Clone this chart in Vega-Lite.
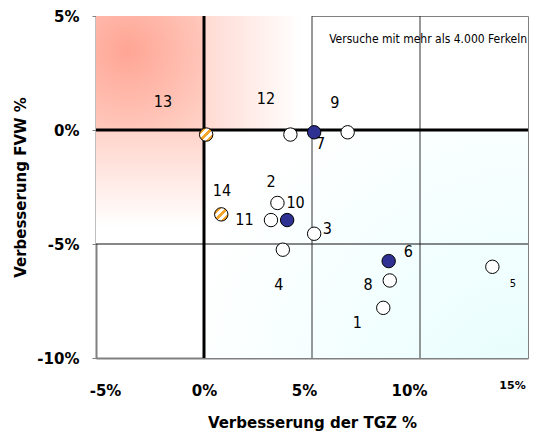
{
  "$schema": "https://vega.github.io/schema/vega-lite/v6.json",
  "width": 432,
  "height": 342,
  "autosize": {"type": "none"},
  "padding": {"left": 96, "top": 16, "right": 6, "bottom": 74},
  "background": "white",
  "config": {
    "view": {"stroke": "#808080", "strokeWidth": 1},
    "font": "DejaVu Sans"
  },
  "datasets": {
    "pts": [
      {"id": 1, "x": 8.3, "y": -7.8, "type": "white", "lx": 7.1, "ly": -8.46},
      {"id": 2, "x": 3.4, "y": -3.2, "type": "white", "lx": 3.1, "ly": -2.28},
      {"id": 3, "x": 5.1, "y": -4.55, "type": "white", "lx": 5.71, "ly": -4.34},
      {"id": 4, "x": 3.65, "y": -5.25, "type": "white", "lx": 3.47, "ly": -6.78},
      {"id": 5, "x": 13.35, "y": -6.0, "type": "white", "lx": 14.3, "ly": -6.74},
      {"id": 6, "x": 8.55, "y": -5.75, "type": "blue", "lx": 9.46, "ly": -5.34},
      {"id": 7, "x": 5.1, "y": -0.1, "type": "blue", "lx": 5.4, "ly": -0.6},
      {"id": 8, "x": 8.6, "y": -6.6, "type": "white", "lx": 7.6, "ly": -6.78},
      {"id": 9, "x": 6.65, "y": -0.1, "type": "white", "lx": 6.06, "ly": 1.2},
      {"id": 10, "x": 3.85, "y": -3.95, "type": "blue", "lx": 4.24, "ly": -3.19},
      {"id": 11, "x": 3.1, "y": -3.95, "type": "white", "lx": 1.87, "ly": -3.94},
      {"id": 12, "x": 4.0, "y": -0.2, "type": "white", "lx": 2.87, "ly": 1.34},
      {"id": 13, "x": 0.1, "y": -0.2, "type": "orange", "lx": -1.9, "ly": 1.25},
      {"id": 14, "x": 0.8, "y": -3.7, "type": "orange", "lx": 0.83, "ly": -2.67}
    ]
  },
  "layer": [
    {
      "data": {"values": [{"x": -5, "x2": 0, "y": 0, "y2": 5}]},
      "mark": {
        "type": "rect",
        "fill": {
          "gradient": "radial",
          "x1": 0.3, "y1": 0.3, "r1": 0,
          "x2": 0.3, "y2": 0.3, "r2": 0.95,
          "stops": [
            {"offset": 0, "color": "#FFA594"},
            {"offset": 1, "color": "#FFD3C8"}
          ]
        }
      },
      "encoding": {
        "x": {
          "field": "x", "type": "quantitative",
          "scale": {"domain": [-5, 15], "nice": false, "zero": false},
          "axis": {
            "values": [-5, 0, 5, 10, 15],
            "labelExpr": "datum.value + '%'",
            "grid": false, "ticks": false, "domain": true,
            "domainColor": "#808080", "domainWidth": 2,
            "labelFont": "DejaVu Sans", "labelFontWeight": "bold",
            "labelFontSize": {"condition": {"test": "datum.value == 15", "value": 11}, "value": 15},
            "labelColor": "black",
            "labelPadding": {"condition": {"test": "datum.value == 15", "value": 21}, "value": 25},
            "labelOffset": {
              "condition": [
                {"test": "datum.value == -5", "value": 9},
                {"test": "datum.value == 5", "value": -8},
                {"test": "datum.value == 10", "value": -11},
                {"test": "datum.value == 15", "value": -16}
              ],
              "value": 0
            },
            "labelFlush": false,
            "labelOverlap": false,
            "title": "Verbesserung der TGZ %",
            "titleFont": "DejaVu Sans", "titleFontWeight": "bold", "titleFontSize": 15,
            "titleColor": "black", "titlePadding": 17
          }
        },
        "x2": {"field": "x2"},
        "y": {
          "field": "y", "type": "quantitative",
          "scale": {"domain": [-10, 5], "nice": false, "zero": false},
          "axis": {
            "values": [-10, -5, 0, 5],
            "labelExpr": "datum.value + '%'",
            "grid": false, "ticks": true, "tickSize": 4, "tickColor": "#808080",
            "domain": true, "domainColor": "#808080", "domainWidth": 2,
            "labelFont": "DejaVu Sans", "labelFontWeight": "bold", "labelFontSize": 15,
            "labelColor": "black", "labelPadding": 13,
            "labelFlush": false, "labelOverlap": false,
            "title": "Verbesserung FVW %",
            "titleFont": "DejaVu Sans", "titleFontWeight": "bold", "titleFontSize": 15,
            "titleColor": "black", "titlePadding": 8
          }
        },
        "y2": {"field": "y2"}
      }
    },
    {
      "data": {"values": [{"x": 0, "x2": 5, "y": 0, "y2": 5}]},
      "mark": {
        "type": "rect",
        "fill": {
          "gradient": "linear", "x1": 0, "y1": 0, "x2": 1, "y2": 0,
          "stops": [
            {"offset": 0, "color": "#FFDAD2"},
            {"offset": 0.9, "color": "#FFFFFF"},
            {"offset": 1, "color": "#FFFFFF"}
          ]
        }
      },
      "encoding": {
        "x": {"field": "x", "type": "quantitative"},
        "x2": {"field": "x2"},
        "y": {"field": "y", "type": "quantitative"},
        "y2": {"field": "y2"}
      }
    },
    {
      "data": {"values": [{"x": -5, "x2": 0, "y": -5, "y2": 0}]},
      "mark": {
        "type": "rect",
        "fill": {
          "gradient": "linear", "x1": 0, "y1": 0, "x2": 0, "y2": 1,
          "stops": [
            {"offset": 0, "color": "#FFD3C9"},
            {"offset": 0.85, "color": "#FFFFFF"},
            {"offset": 1, "color": "#FFFFFF"}
          ]
        }
      },
      "encoding": {
        "x": {"field": "x", "type": "quantitative"},
        "x2": {"field": "x2"},
        "y": {"field": "y", "type": "quantitative"},
        "y2": {"field": "y2"}
      }
    },
    {
      "data": {"values": [{"x": 0, "x2": 15, "y": -10, "y2": 0}]},
      "mark": {
        "type": "rect",
        "fill": {
          "gradient": "radial",
          "x1": 1, "y1": 1, "r1": 0,
          "x2": 1, "y2": 1, "r2": 1.1,
          "stops": [
            {"offset": 0, "color": "#E6FDFD"},
            {"offset": 0.6, "color": "#F5FFFF"},
            {"offset": 1, "color": "#FFFFFF"}
          ]
        }
      },
      "encoding": {
        "x": {"field": "x", "type": "quantitative"},
        "x2": {"field": "x2"},
        "y": {"field": "y", "type": "quantitative"},
        "y2": {"field": "y2"}
      }
    },
    {
      "data": {"values": [{"x": 5}, {"x": 10}]},
      "mark": {"type": "rule", "color": "#333333", "strokeWidth": 1},
      "encoding": {"x": {"field": "x", "type": "quantitative"}}
    },
    {
      "data": {"values": [{"y": -5}]},
      "mark": {"type": "rule", "color": "#111111", "strokeWidth": 1},
      "encoding": {"y": {"field": "y", "type": "quantitative"}}
    },
    {
      "data": {"values": [{"x": 0}]},
      "mark": {"type": "rule", "color": "black", "strokeWidth": 3},
      "encoding": {"x": {"field": "x", "type": "quantitative"}}
    },
    {
      "data": {"values": [{"y": 0}]},
      "mark": {"type": "rule", "color": "black", "strokeWidth": 3},
      "encoding": {"y": {"field": "y", "type": "quantitative"}}
    },
    {
      "data": {"values": [{"t": "Versuche mit mehr als 4.000 Ferkeln", "x": 15, "y": 4.0}]},
      "mark": {"type": "text", "align": "right", "baseline": "middle", "dx": -1, "font": "DejaVu Sans Condensed", "fontSize": 12, "color": "black"},
      "encoding": {
        "x": {"field": "x", "type": "quantitative"},
        "y": {"field": "y", "type": "quantitative"},
        "text": {"field": "t"}
      }
    },
    {
      "data": {"name": "pts"},
      "transform": [{"filter": "datum.type != 'orange'"}],
      "mark": {"type": "point", "shape": "circle", "filled": true, "size": 180, "stroke": "black", "strokeWidth": 1, "opacity": 1},
      "encoding": {
        "x": {"field": "x", "type": "quantitative"},
        "y": {"field": "y", "type": "quantitative"},
        "fill": {
          "field": "type", "type": "nominal",
          "scale": {"domain": ["white", "blue"], "range": ["#FFFFFF", "#2E3192"]},
          "legend": null
        }
      }
    },
    {
      "data": {"name": "pts"},
      "transform": [{"filter": "datum.type == 'orange'"}],
      "mark": {
        "type": "point", "shape": "circle", "filled": true, "size": 180, "stroke": "black", "strokeWidth": 1, "opacity": 1,
        "fill": {
          "gradient": "linear", "x1": 0, "y1": 0, "x2": 1, "y2": 1,
          "stops": [
            {"offset": 0, "color": "#FFFFFF"},
            {"offset": 0.14, "color": "#FFFFFF"},
            {"offset": 0.14, "color": "#F5A52A"},
            {"offset": 0.28, "color": "#F5A52A"},
            {"offset": 0.28, "color": "#FFFFFF"},
            {"offset": 0.43, "color": "#FFFFFF"},
            {"offset": 0.43, "color": "#F5A52A"},
            {"offset": 0.57, "color": "#F5A52A"},
            {"offset": 0.57, "color": "#FFFFFF"},
            {"offset": 0.71, "color": "#FFFFFF"},
            {"offset": 0.71, "color": "#F5A52A"},
            {"offset": 0.85, "color": "#F5A52A"},
            {"offset": 0.85, "color": "#FFFFFF"},
            {"offset": 1, "color": "#FFFFFF"}
          ]
        }
      },
      "encoding": {
        "x": {"field": "x", "type": "quantitative"},
        "y": {"field": "y", "type": "quantitative"}
      }
    },
    {
      "data": {"name": "pts"},
      "mark": {"type": "text", "align": "center", "baseline": "middle", "font": "DejaVu Sans Condensed", "color": "black"},
      "encoding": {
        "x": {"field": "lx", "type": "quantitative"},
        "y": {"field": "ly", "type": "quantitative"},
        "text": {"field": "id", "type": "nominal"},
        "size": {"condition": {"test": "datum.id == 5", "value": 11}, "value": 16}
      }
    }
  ]
}
